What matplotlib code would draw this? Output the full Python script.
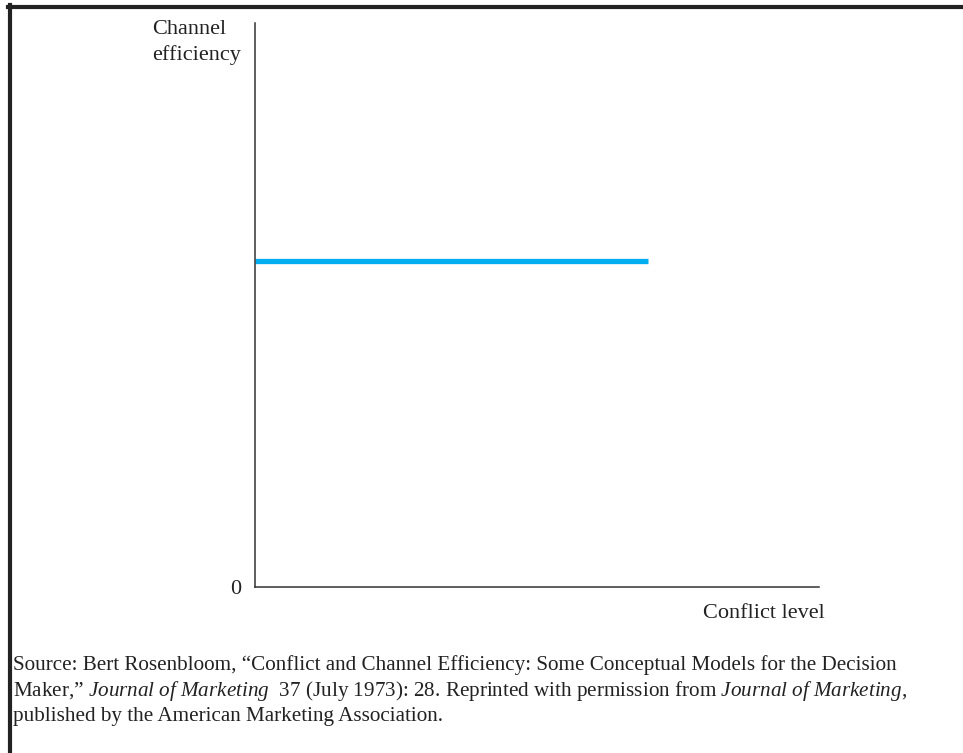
import matplotlib.pyplot as plt
from matplotlib.lines import Line2D

# data
conflict = [0, 6.97]
efficiency = [5.78, 5.78]

serif = ['Liberation Serif', 'DejaVu Serif']
plt.rcParams['font.family'] = serif
plt.rcParams['mathtext.fontset'] = 'custom'
plt.rcParams['mathtext.rm'] = 'Liberation Serif'
plt.rcParams['mathtext.it'] = 'Liberation Serif:italic'

fig = plt.figure(figsize=(9.63, 7.53), dpi=100)
ax = fig.add_axes([255 / 963, 1 - 587 / 753, (819 - 255) / 963, (587 - 23) / 753])

ax.plot(conflict, efficiency, color='#00aeef', lw=3.8, solid_capstyle='butt')
ax.set_xlim(0, 10)
ax.set_ylim(0, 10)

for s in ['top', 'right']:
    ax.spines[s].set_visible(False)
for s in ['left', 'bottom']:
    ax.spines[s].set_color('#333333')
    ax.spines[s].set_linewidth(1.1)
ax.set_xticks([])
ax.set_yticks([])

ax.text(-0.025, -0.004, '0', transform=ax.transAxes, ha='right', va='center', fontsize=16, color='#222222')
fig.text(152 / 963, 1 - 20 / 753, 'Channel\nefficiency', ha='left', va='top', fontsize=16,
         color='#222222', linespacing=1.4)
fig.text(825 / 963, 1 - 613 / 753, 'Conflict level', ha='right', va='center', fontsize=16, color='#222222')

fig.text(13 / 963, 1 - 655 / 753,
         'Source: Bert Rosenbloom, \u201cConflict and Channel Efficiency: Some Conceptual Models for the Decision\n'
         'Maker,\u201d $\\it{Journal\\ of\\ Marketing}$  37 (July 1973): 28. Reprinted with permission from '
         '$\\it{Journal\\ of\\ Marketing}$,\n'
         'published by the American Marketing Association.',
         ha='left', va='top', fontsize=15.2, color='#222222', linespacing=1.25)

# page frame: top and left rules
fig.add_artist(Line2D([10 / 963, 10 / 963], [0, 1 - 5 / 753], color='#222222', lw=3, transform=fig.transFigure))
fig.add_artist(Line2D([8 / 963, 1], [1 - 7 / 753, 1 - 7 / 753], color='#222222', lw=3, transform=fig.transFigure))

fig.savefig('out.png', dpi=100)
